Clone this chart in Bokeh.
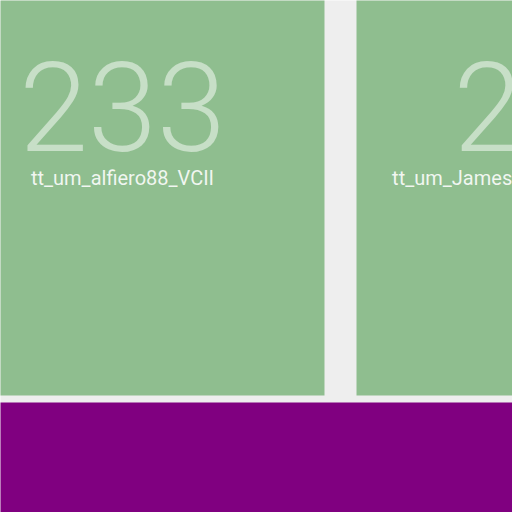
from bokeh.plotting import figure
from bokeh.models import Range1d, ColumnDataSource
from bokeh.core.properties import value
from bokeh.embed import file_html
from bokeh.resources import INLINE

# data
names = ["tt_um_alfiero88_VCII", "tt_um_JamesTimothyMeech_inverter", "tt_um_analog_block"]
values = [233, 231, 190]
colors = ["#8fbe8f", "#8fbe8f", "#800080"]

# layout (view window over a larger treemap)
tile_start = -80
row_top, row_bottom = -100, 395
gap_x = 32
scale = 404 / values[0]

lefts, rights, tops, bottoms = [], [], [], []
x = tile_start
for v in values[:2]:
    w = v * scale
    lefts.append(x); rights.append(x + w)
    tops.append(row_top); bottoms.append(row_bottom)
    x += w + gap_x
lefts.append(-200); rights.append(1200); tops.append(402); bottoms.append(700)

src = ColumnDataSource(dict(left=lefts, right=rights, top=tops, bottom=bottoms,
                            color=colors))

p = figure(width=512, height=512, output_backend="svg", toolbar_location=None,
           x_range=Range1d(0, 512), y_range=Range1d(512, 0),
           min_border=0, background_fill_color="#eeeeee", border_fill_color="#eeeeee")
p.outline_line_color = None
p.axis.visible = False
p.grid.visible = False

p.quad(left="left", right="right", top="top", bottom="bottom", fill_color="color",
       line_color=None, source=src)

cx = [(l + r) / 2 for l, r in zip(lefts[:2], rights[:2])]
tsrc = ColumnDataSource(dict(x=cx, ny=[106] * 2, ly=[177] * 2,
                             num=[str(v) for v in values[:2]], name=names[:2]))
p.text(x="x", y="ny", text="num", source=tsrc, text_align="center", text_baseline="middle",
       text_font=value("Roboto Light"), text_font_size="124px", text_color="white", text_alpha=0.5)
p.text(x="x", y="ly", text="name", source=tsrc, text_align="center", text_baseline="middle",
       text_font=value("Roboto"), text_font_size="20px", text_color="white", text_alpha=0.88)

open("out.html", "w").write(file_html(p, INLINE))
